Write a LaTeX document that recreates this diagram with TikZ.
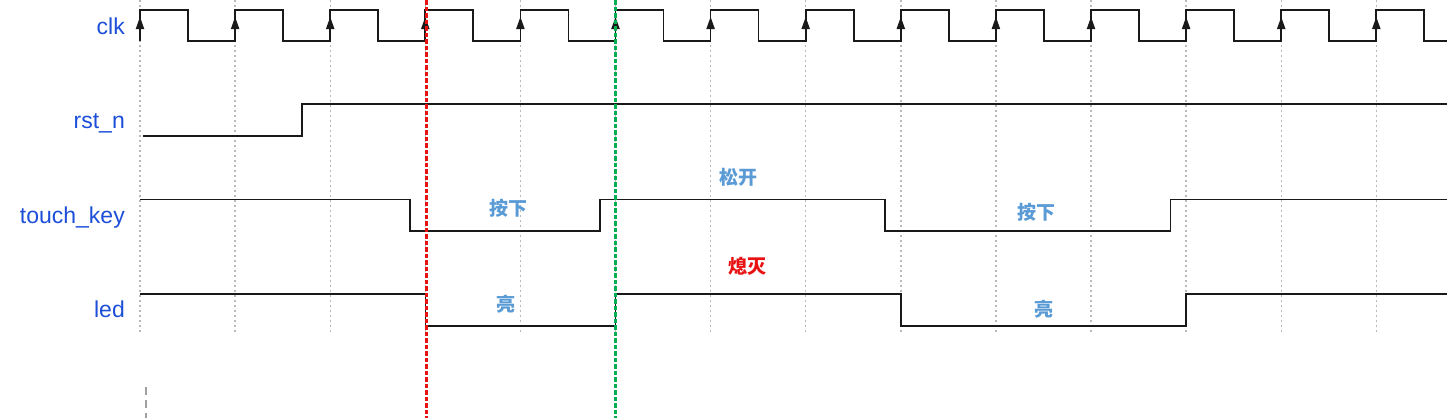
\documentclass[tikz,border=0pt]{standalone}
\usepackage{fontspec}
\setmainfont{Liberation Sans}
\newfontfamily\cjk{Noto Sans CJK SC}
\usetikzlibrary{arrows.meta}
\definecolor{lblblue}{RGB}{28,78,216}
\definecolor{cnblue}{RGB}{91,155,213}
\definecolor{mkred}{RGB}{232,18,18}
\definecolor{mkgreen}{RGB}{0,176,80}
\definecolor{gridgray}{RGB}{185,185,185}
\definecolor{sigcol}{RGB}{25,25,25}
\tikzset{
  sig/.style={draw=sigcol, line width=1.7pt, line join=miter},
  gridline/.style={draw=gridgray, line width=1.4pt, dash pattern=on 1.6pt off 3.4pt},
  marker/.style={line width=2.4pt, dash pattern=on 4.5pt off 2pt},
  siglabel/.style={anchor=base east, text=lblblue, font=\fontsize{23}{23}\selectfont, inner sep=0pt},
  cnlabel/.style={anchor=base, font=\cjk\bfseries\fontsize{19}{19}\selectfont, inner sep=0pt},
  edgearrow/.style={fill=sigcol, draw=none}
}
\begin{document}
\begin{tikzpicture}[x=1pt, y=-1pt]
\useasboundingbox (0,0) rectangle (1447,418);
% grid
\foreach \k in {0,...,13} {
  \draw[gridline] ({140+95.1*\k},0) -- ({140+95.1*\k},333);
}
\draw[draw={rgb,255:red,160;green,160;blue,160}, line width=1.6pt, dash pattern=on 8pt off 5pt] (145.7,387) -- (145.7,418);
% labels
\node[siglabel] (lclk) at (125,34.3) {clk};
\node[siglabel] (lrst) at (125,128) {rst\_n};
\node[siglabel] (lkey) at (125,223.3) {touch\_key};
\node[siglabel] (lled) at (125,317.7) {led};
% clk
\draw[sig] (140,41) \foreach \k in {0,...,13} {
   -- ({140+95.1*\k},10) -- ({188+95.1*\k},10) -- ({188+95.1*\k},41) -- ({min(235.1+95.1*\k,1447)},41)
 };
\foreach \k in {0,...,13} {
  \fill[edgearrow] ({140+95.1*\k-4.3},29) -- ({140+95.1*\k},17) -- ({140+95.1*\k+4.3},29) -- cycle;
}
% rst_n
\draw[sig] (143,136) -- (302,136) -- (302,104) -- (1447,104);
% touch_key
\draw[sig] (140,199.5) -- (410,199.5) -- (410,231) -- (600,231) -- (600,199.5) -- (885,199.5) -- (885,231) -- (1170.5,231) -- (1170.5,199.5) -- (1447,199.5);
% led
\draw[sig] (140,294.3) -- (425.5,294.3) -- (425.5,325.8) -- (615.5,325.8) -- (615.5,294.3) -- (900.8,294.3) -- (900.8,325.8) -- (1186.1,325.8) -- (1186.1,294.3) -- (1447,294.3);
% chinese labels
\node[cnlabel, text=cnblue] (t1) at (508,215.7) {按下};
\node[cnlabel, text=cnblue] (t2) at (738,184) {松开};
\node[cnlabel, text=mkred] (t3) at (747.5,273) {熄灭};
\node[cnlabel, text=cnblue] (t4) at (506,311) {亮};
\node[cnlabel, text=cnblue] (t5) at (1036,219.5) {按下};
\node[cnlabel, text=cnblue] (t6) at (1044,316) {亮};
% markers
\coordinate (rtop) at (426.5,0);
\coordinate (rbot) at (426.5,418);
\coordinate (gtop) at (615.5,0);
\coordinate (gbot) at (615.5,418);
\draw[marker, draw=mkred] (rtop) -- (rbot);
\draw[marker, draw=mkgreen] (gtop) -- (gbot);
\end{tikzpicture}
\end{document}
